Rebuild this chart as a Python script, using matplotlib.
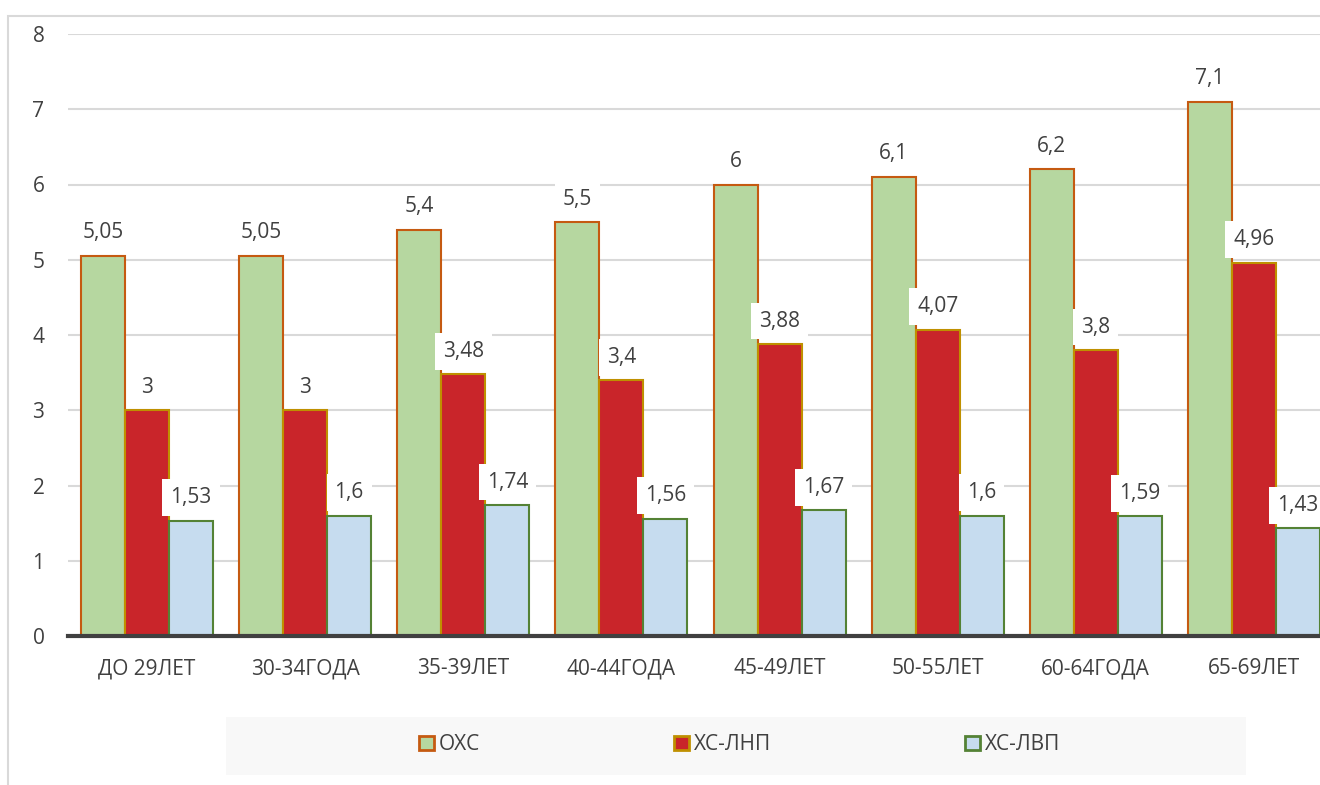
import matplotlib
matplotlib.use("Agg")
import matplotlib.pyplot as plt
import numpy as np
from matplotlib.patches import Rectangle

plt.rcParams['font.family'] = ['Open Sans', 'DejaVu Sans']

# data
categories = ['ДО 29ЛЕТ', '30-34ГОДА', '35-39ЛЕТ', '40-44ГОДА',
              '45-49ЛЕТ', '50-55ЛЕТ', '60-64ГОДА', '65-69ЛЕТ']
ohs = [5.05, 5.05, 5.4, 5.5, 6, 6.1, 6.2, 7.1]
hs_lnp = [3, 3, 3.48, 3.4, 3.88, 4.07, 3.8, 4.96]
hs_lvp = [1.53, 1.6, 1.74, 1.56, 1.67, 1.6, 1.59, 1.43]
series_names = ['ОХС', 'ХС-ЛНП', 'ХС-ЛВП']

fills = ['#b6d7a0', '#c9252a', '#c6dcef']
edges = ['#c55a11', '#bf9000', '#548235']
txt = '#404040'

fig = plt.figure(figsize=(13.2, 7.85), dpi=100)

# outer chart frame (partly cropped in the reference)
fig.patches.append(Rectangle((8 / 1320, -0.1), 1.2, (785 - 16) / 785 + 0.1,
                             transform=fig.transFigure, fill=False,
                             edgecolor='#d9d9d9', linewidth=1.5))

ax = fig.add_axes([68 / 1320, 149 / 785, 1265 / 1320, 602 / 785])

x = np.arange(len(categories))
width = 0.278
bars = []
for i, vals in enumerate([ohs, hs_lnp, hs_lvp]):
    b = ax.bar(x + (i - 1) * width, vals, width, color=fills[i],
               edgecolor=edges[i], linewidth=1.5, label=series_names[i], zorder=2)
    bars.append(b)
    for xi, v in zip(x + (i - 1) * width, vals):
        s = ('%g' % v).replace('.', ',')
        ax.annotate(s, (xi, v), xytext=(0, 23), textcoords='offset pixels',
                    ha='center', va='center', fontsize=15, color=txt, zorder=5,
                    bbox=dict(boxstyle='square,pad=0.38', fc='white', ec='none'))

ax.set_xlim(-0.5, 7.5)
ax.set_ylim(0, 8)
ax.set_yticks(range(9))
ax.set_xticks(x)
ax.set_xticklabels(categories)
ax.tick_params(axis='both', length=0, labelsize=15, colors=txt)
ax.tick_params(axis='y', pad=17)
ax.tick_params(axis='x', pad=16)
ax.grid(axis='y', color='#d9d9d9', linewidth=1.5, zorder=0)
ax.set_axisbelow(True)
for sp in ['top', 'right', 'left']:
    ax.spines[sp].set_visible(False)
ax.spines['bottom'].set_color('#404040')
ax.spines['bottom'].set_linewidth(3)
ax.spines['bottom'].set_zorder(3)

# legend band
fig.patches.append(Rectangle((226 / 1320, 10 / 785), 1020 / 1320, 58 / 785,
                             transform=fig.transFigure, facecolor='#f8f8f8',
                             edgecolor='none', zorder=0))
leg_x = [419 / 1320, 674 / 1320, 965 / 1320]
for i in range(3):
    lg = fig.legend([bars[i]], [series_names[i]], loc='center left',
                    bbox_to_anchor=(leg_x[i], 40 / 785), frameon=False,
                    fontsize=15, handlelength=0.72, handleheight=0.62,
                    handletextpad=0.25, borderpad=0, borderaxespad=0)
    for t in lg.get_texts():
        t.set_color(txt)
    for h in lg.legend_handles:
        h.set_linewidth(2)

fig.savefig('out.png', dpi=100)
